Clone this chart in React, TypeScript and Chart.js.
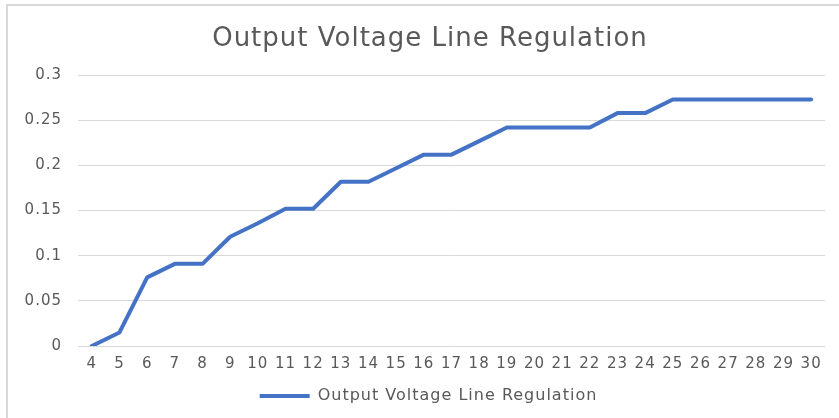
import React, { useEffect, useRef } from "react";
import { Chart, registerables } from "chart.js";

Chart.register(...registerables);

const titleText = "Output Voltage Line Regulation";
const seriesName = "Output Voltage Line Regulation";
const categories = ["4","5","6","7","8","9","10","11","12","13","14","15","16","17","18","19","20","21","22","23","24","25","26","27","28","29","30"];
const values = [0, 0.015, 0.076, 0.091, 0.091, 0.121, 0.136, 0.152, 0.152, 0.182, 0.182, 0.197, 0.212, 0.212, 0.227, 0.242, 0.242, 0.242, 0.242, 0.258, 0.258, 0.273, 0.273, 0.273, 0.273, 0.273, 0.273];
const yTicks = [0, 0.05, 0.1, 0.15, 0.2, 0.25, 0.3];

const FONT = "'DejaVu Sans', 'Noto Sans', sans-serif";
const TEXT = "#595959";
const BLUE = "#4472C4";

const spacingPlugin = {
  id: "spacing",
  beforeUpdate(chart: any) {
    (chart.ctx as any).letterSpacing = "1px";
  },
  afterLayout(chart: any) {
    if (chart.titleBlock) chart.titleBlock.left += 35;
    if (chart.legend) chart.legend.left += 32;
  },
  beforeDraw(chart: any) {
    const ctx = chart.ctx;
    (ctx as any).letterSpacing = "1px";
    ctx.save();
    ctx.fillStyle = "#ffffff";
    ctx.fillRect(0, 0, chart.width, chart.height);
    ctx.strokeStyle = "#d9d9d9";
    ctx.lineWidth = 2;
    ctx.beginPath();
    ctx.moveTo(7, chart.height);
    ctx.lineTo(7, 5);
    ctx.lineTo(chart.width, 5);
    ctx.stroke();
    ctx.restore();
  },
};

export default function App() {
  const ref = useRef<HTMLCanvasElement>(null);
  useEffect(() => {
    document.body.style.margin = "0";
    const chart = new Chart(ref.current!, {
      type: "line",
      data: {
        labels: categories,
        datasets: [
          {
            label: seriesName,
            data: values,
            borderColor: BLUE,
            backgroundColor: BLUE,
            borderWidth: 4,
            pointRadius: 0,
            tension: 0,
            borderJoinStyle: "round",
            borderCapStyle: "round",
          },
        ],
      },
      options: {
        animation: false,
        responsive: false,
        layout: { padding: { left: 0, right: 14, top: 0, bottom: 4 } },
        plugins: {
          title: {
            display: true,
            text: titleText,
            color: TEXT,
            font: { family: FONT, size: 26, weight: "normal" },
            padding: { top: 24, bottom: 20 },
          },
          legend: {
            position: "bottom",
            labels: {
              color: TEXT,
              font: { family: FONT, size: 16 },
              boxWidth: 50,
              boxHeight: 4,
              padding: 5,
              generateLabels: () => [
                {
                  text: seriesName,
                  fillStyle: BLUE,
                  strokeStyle: BLUE,
                  lineWidth: 0,
                  hidden: false,
                  datasetIndex: 0,
                  fontColor: TEXT,
                } as any,
              ],
            },
          },
          tooltip: { enabled: false },
        },
        scales: {
          x: {
            offset: true,
            grid: { display: false, drawTicks: false },
            border: { display: false },
            ticks: {
              color: TEXT,
              font: { family: FONT, size: 15 },
              padding: 9,
              maxRotation: 0,
              autoSkip: false,
            },
            afterFit: (s: any) => {
              s.height = 37;
            },
          },
          y: {
            min: 0,
            max: 0.3,
            afterBuildTicks: (s: any) => {
              s.ticks = yTicks.map((v) => ({ value: v }));
            },
            grid: { color: "#d9d9d9", lineWidth: 1, drawTicks: false },
            border: { display: false },
            ticks: {
              color: TEXT,
              font: { family: FONT, size: 15 },
              padding: 16,
              callback: (v: any) => String(Number(v)),
            },
            afterFit: (s: any) => {
              s.width = 78;
            },
          },
        },
      },
      plugins: [spacingPlugin],
    });
    return () => chart.destroy();
  }, []);
  return <canvas ref={ref} width={839} height={418} style={{ display: "block" }} />;
}
